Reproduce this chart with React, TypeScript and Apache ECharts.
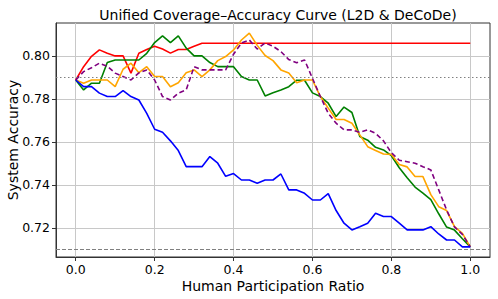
import React, { useEffect, useRef } from "react";
import * as echarts from "echarts";

const ratios = [
  0.0, 0.02, 0.04, 0.06, 0.08, 0.1, 0.12, 0.14, 0.16, 0.18,
  0.2, 0.22, 0.24, 0.26, 0.28, 0.3, 0.32, 0.34, 0.36, 0.38,
  0.4, 0.42, 0.44, 0.46, 0.48, 0.5, 0.52, 0.54, 0.56, 0.58,
  0.6, 0.62, 0.64, 0.66, 0.68, 0.7, 0.72, 0.74, 0.76, 0.78,
  0.8, 0.82, 0.84, 0.86, 0.88, 0.9, 0.92, 0.94, 0.96, 0.98, 1.0,
];

const redValues = [
  0.7888, 0.795, 0.7998, 0.8028, 0.8012, 0.8, 0.8, 0.792, 0.8012, 0.803,
  0.8045, 0.8032, 0.8013, 0.803, 0.803, 0.8045, 0.8059, 0.8059, 0.8059, 0.8059,
  0.8059, 0.8059, 0.8059, 0.8059, 0.8059, 0.8059, 0.8059, 0.8059, 0.8059, 0.8059,
  0.8059, 0.8059, 0.8059, 0.8059, 0.8059, 0.8059, 0.8059, 0.8059, 0.8059, 0.8059,
  0.8059, 0.8059, 0.8059, 0.8059, 0.8059, 0.8059, 0.8059, 0.8059, 0.8059, 0.8059, 0.8059,
];

const greenValues = [
  0.7888, 0.7842, 0.7873, 0.7873, 0.7969, 0.7981, 0.7981, 0.7981, 0.7981, 0.8012,
  0.8062, 0.8093, 0.8062, 0.8093, 0.8036, 0.8, 0.8, 0.7969, 0.795, 0.795,
  0.795, 0.7904, 0.7888, 0.7888, 0.7814, 0.7829, 0.7842, 0.7857, 0.7887, 0.7887,
  0.7828, 0.7811, 0.778, 0.7718, 0.7762, 0.7737, 0.7625, 0.7608, 0.7575, 0.7563,
  0.7536, 0.748, 0.7433, 0.739, 0.7362, 0.7332, 0.7266, 0.7204, 0.719, 0.715, 0.7112,
];

const orangeValues = [
  0.7888, 0.7873, 0.7888, 0.7888, 0.7888, 0.7857, 0.7938, 0.7966, 0.7922, 0.795,
  0.7904, 0.7904, 0.7857, 0.7875, 0.7922, 0.7935, 0.7904, 0.7935, 0.7978, 0.7997,
  0.8028, 0.8074, 0.8106, 0.8049, 0.8002, 0.7978, 0.7935, 0.792, 0.7875, 0.7888,
  0.7888, 0.7811, 0.7757, 0.7704, 0.7704, 0.7687, 0.7633, 0.7578, 0.756, 0.7544,
  0.7542, 0.7495, 0.7484, 0.7439, 0.7439, 0.7355, 0.7299, 0.7281, 0.7206, 0.7175, 0.7112,
];

const purpleValues = [
  0.7888, 0.7927, 0.7945, 0.7966, 0.7952, 0.792, 0.7904, 0.7888, 0.7921, 0.7935,
  0.7888, 0.7811, 0.7795, 0.7827, 0.7842, 0.795, 0.7935, 0.7935, 0.7935, 0.7935,
  0.8008, 0.806, 0.8074, 0.8032, 0.806, 0.8045, 0.802, 0.7983, 0.7968, 0.7981,
  0.7896, 0.7811, 0.7733, 0.7687, 0.7656, 0.7656, 0.7645, 0.7656, 0.764, 0.7605,
  0.755, 0.7515, 0.7508, 0.7501, 0.7485, 0.747, 0.7377, 0.7284, 0.7205, 0.717, 0.7112,
];

const blueValues = [
  0.7888, 0.7857, 0.7857, 0.7827, 0.7811, 0.7811, 0.7839, 0.7811, 0.7795, 0.7733,
  0.7659, 0.7645, 0.7605, 0.756, 0.7485, 0.7485, 0.7485, 0.7532, 0.7501, 0.744,
  0.7453, 0.7423, 0.7423, 0.7408, 0.7423, 0.7423, 0.7451, 0.7377, 0.7377, 0.7361,
  0.733, 0.733, 0.736, 0.7281, 0.7222, 0.7191, 0.7206, 0.7222, 0.7268, 0.7253,
  0.7253, 0.7222, 0.7191, 0.7191, 0.7191, 0.7206, 0.7172, 0.7144, 0.7144, 0.7112, 0.7112,
];

const baselineAccuracy = 0.7888;
const fullHumanAccuracy = 0.7112;

const xTicks = [0.0, 0.2, 0.4, 0.6, 0.8, 1.0];
const yTicks = [0.72, 0.74, 0.76, 0.78, 0.8];

const titleText = "Unified Coverage\u2013Accuracy Curve (L2D & DeCoDe)";
const xName = "Human Participation Ratio";
const yName = "System Accuracy";

const FONT = "DejaVu Sans";

function pairs(values: number[]) {
  return ratios.map((r, i) => [r, values[i]]);
}

export default function App() {
  const ref = useRef<HTMLDivElement>(null);
  useEffect(() => {
    if (!ref.current) return;
    const chart = echarts.init(ref.current, undefined, { renderer: "svg" });
    const lineSeries = (name: string, color: string, values: number[], dashed = false) => ({
      name,
      type: "line",
      data: pairs(values),
      showSymbol: false,
      symbol: "none",
      lineStyle: { color, width: 1.6, type: dashed ? [5, 3] : "solid" },
      itemStyle: { color },
      z: 3,
    });
    chart.setOption({
      animation: false,
      backgroundColor: "#ffffff",
      title: {
        text: titleText,
        left: 273,
        textAlign: "center",
        top: 3,
        textStyle: { fontFamily: FONT, fontSize: 14, fontWeight: "normal", color: "#000" },
      },
      grid: {
        left: 56,
        right: 8,
        top: 23,
        bottom: 42,
        containLabel: false,
        outerBoundsMode: "none",
        show: true,
        borderColor: "#333",
        borderWidth: 1,
        backgroundColor: "transparent",
      },
      xAxis: {
        type: "value",
        min: -0.05,
        max: 1.05,
        name: xName,
        nameLocation: "middle",
        nameGap: 22,
        nameMoveOverlap: false,
        nameTextStyle: { fontFamily: FONT, fontSize: 14, color: "#000" },
        axisLine: { show: true, onZero: false, lineStyle: { color: "#333", width: 1 } },
        axisTick: { show: true, inside: false, length: 4, customValues: xTicks, lineStyle: { color: "#333" } },
        axisLabel: {
          customValues: xTicks,
          margin: 6,
          fontFamily: FONT,
          fontSize: 12.5,
          color: "#000",
          formatter: (v: number) => v.toFixed(1),
        },
        splitLine: { show: true, lineStyle: { color: "#c8c8c8", width: 1 } },
      },
      yAxis: {
        type: "value",
        min: 0.7065,
        max: 0.8153,
        name: yName,
        nameLocation: "middle",
        nameGap: 36,
        nameMoveOverlap: false,
        nameTextStyle: { fontFamily: FONT, fontSize: 14, color: "#000" },
        axisLine: { show: true, onZero: false, lineStyle: { color: "#333", width: 1 } },
        axisTick: { show: true, inside: false, length: 4, customValues: yTicks, lineStyle: { color: "#333" } },
        axisLabel: {
          customValues: yTicks,
          margin: 6,
          fontFamily: FONT,
          fontSize: 12.5,
          color: "#000",
          formatter: (v: number) => v.toFixed(2),
        },
        splitLine: { show: true, lineStyle: { color: "#c8c8c8", width: 1 } },
      },
      series: [
        {
          name: "reference lines",
          type: "line",
          data: [],
          markLine: {
            silent: true,
            symbol: "none",
            label: { show: false },
            data: [
              { yAxis: baselineAccuracy, lineStyle: { color: "#808080", type: [1.5, 2.5], width: 1.2 } },
              { yAxis: fullHumanAccuracy, lineStyle: { color: "#808080", type: [4, 2], width: 1 } },
            ],
          },
        },
        lineSeries("Red", "#ff0000", redValues),
        lineSeries("Green", "#008000", greenValues),
        lineSeries("Orange", "#ffa500", orangeValues),
        lineSeries("Purple", "#800080", purpleValues, true),
        lineSeries("Blue", "#0000ff", blueValues),
      ],
    });
    return () => chart.dispose();
  }, []);
  return (
    <div
      ref={ref}
      style={{ position: "fixed", left: 0, top: 0, width: 498, height: 299 }}
    />
  );
}
